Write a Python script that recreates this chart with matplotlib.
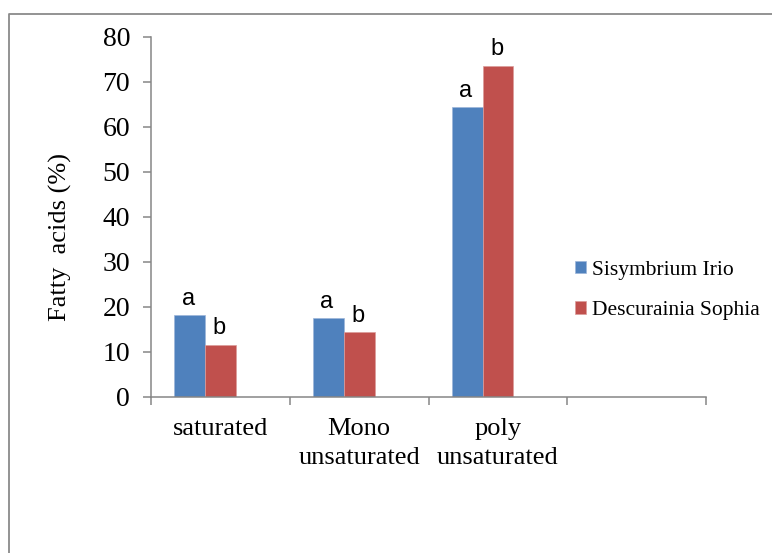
import numpy as np
import matplotlib
matplotlib.use('Agg')
import matplotlib.pyplot as plt
from matplotlib.lines import Line2D

# data
categories = ['saturated', 'Mono\nunsaturated', 'poly\nunsaturated', '']
sisymbrium = [18.1, 17.4, 64.3]
descurainia = [11.5, 14.3, 73.5]
sis_letters = ['a', 'a', 'a']
desc_letters = ['b', 'b', 'b']
series_names = ['Sisymbrium Irio', 'Descurainia Sophia']

blue = '#4F81BD'
red = '#C0504D'
grey = '#868686'
serif = 'Liberation Serif'
sans = 'Liberation Sans'

fig = plt.figure(figsize=(7.72, 5.53), dpi=100)
ax = fig.add_axes([0.1956, 0.2826, 0.719, 0.651])

# Excel layout: 3 series slots (third one empty), gap width 150%
w = 1.0 / (3 + 1.5)
centers = np.arange(len(sisymbrium)) + 0.5
x_sis = centers - w
x_desc = centers

b1 = ax.bar(x_sis, sisymbrium, width=w, color=blue, edgecolor='#9DB6DA',
            linewidth=0.5, label=series_names[0])
b2 = ax.bar(x_desc, descurainia, width=w, color=red, edgecolor='#DC9C9A',
            linewidth=0.5, label=series_names[1])

for xs, vals, letters in [(x_sis, sisymbrium, sis_letters),
                          (x_desc, descurainia, desc_letters)]:
    for xx, v, t in zip(xs, vals, letters):
        ax.annotate(t, (xx, v), xytext=(-1, 4), textcoords='offset points',
                    ha='center', va='bottom', fontsize=17, family=sans)

ax.set_xlim(0, len(categories))
ax.set_ylim(0, 80)
ax.set_yticks(np.arange(0, 81, 10))

ax.set_xticks(np.arange(len(categories) + 1))
ax.set_xticklabels([])
ax.set_xticks(np.arange(len(categories)) + 0.5, minor=True)
ax.set_xticklabels(categories, minor=True, fontsize=19, family=serif,
                   linespacing=1.45)
ax.tick_params(axis='x', which='minor', length=0, pad=15)
ax.tick_params(axis='x', which='major', length=6, width=1.1, color=grey,
               direction='out')
ax.tick_params(axis='y', length=6, width=1.1, color=grey, direction='out',
               pad=9, labelsize=20)
for lab in ax.get_yticklabels():
    lab.set_family(serif)

for s in ['top', 'right']:
    ax.spines[s].set_visible(False)
for s in ['left', 'bottom']:
    ax.spines[s].set_color(grey)
    ax.spines[s].set_linewidth(1.1)

ax.set_ylabel('Fatty  acids (%)', fontsize=19, family=serif)
ax.yaxis.set_label_coords(-0.142, 0.444)

leg = fig.legend(handles=[b1, b2], loc='center left',
                 bbox_to_anchor=(0.72, 0.475), frameon=False,
                 prop={'family': serif, 'size': 15.5}, handlelength=0.5,
                 handleheight=0.5, handletextpad=0.3, labelspacing=1.0)

# chart area border (cut off at right and bottom)
x0 = 8.5 / 772
y0 = 1 - 13.5 / 553
fig.add_artist(Line2D([x0, x0, 1.0], [0.0, y0, y0], transform=fig.transFigure,
                      color='#8A8A8A', linewidth=1.3))

fig.savefig('out.png', dpi=100)
